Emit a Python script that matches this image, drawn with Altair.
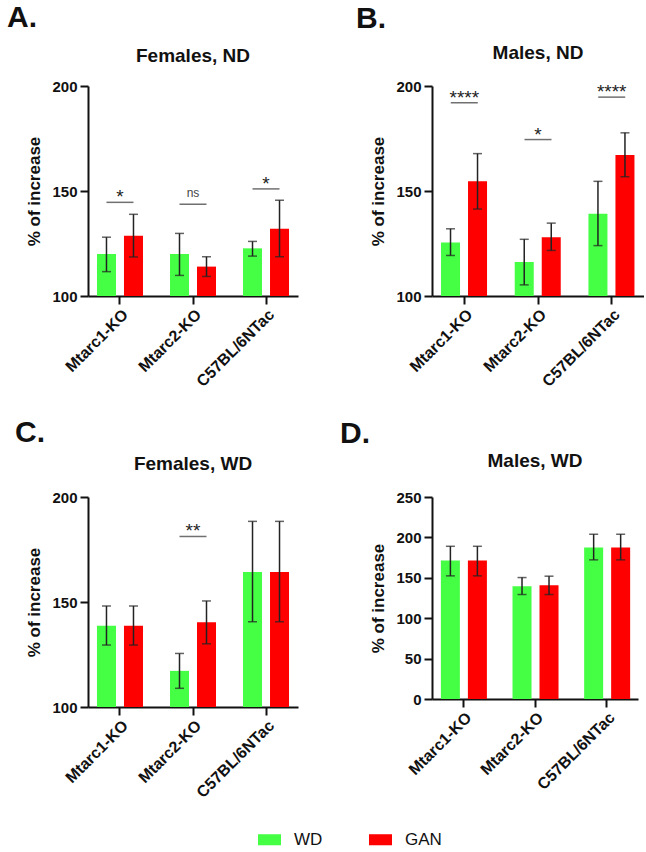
import altair as alt
import pandas as pd

FONT = "Liberation Sans"

strains = ["Mtarc1-KO", "Mtarc2-KO", "C57BL/6NTac"]
groups = ["WD", "GAN"]
group_colors = ["#44FF44", "#FF0000"]

# A. Females, ND
a_wd_mean = [120.0, 120.0, 122.7]
a_wd_lo = [111.6, 109.8, 119.0]
a_wd_hi = [128.0, 129.8, 126.0]
a_gan_mean = [128.7, 114.0, 132.0]
a_gan_lo = [118.6, 109.3, 118.7]
a_gan_hi = [138.9, 118.7, 145.6]
a_sig_strain = ["Mtarc1-KO", "Mtarc2-KO", "C57BL/6NTac"]
a_sig_label = ["*", "ns", "*"]
a_sig_y = [144.6, 143.7, 151.0]

# B. Males, ND
b_wd_mean = [125.5, 116.2, 139.2]
b_wd_lo = [119.3, 105.3, 124.0]
b_wd_hi = [132.0, 127.0, 154.6]
b_gan_mean = [154.6, 128.0, 167.2]
b_gan_lo = [141.4, 121.7, 156.8]
b_gan_hi = [167.8, 134.7, 177.7]
b_sig_strain = ["Mtarc1-KO", "Mtarc2-KO", "C57BL/6NTac"]
b_sig_label = ["****", "*", "****"]
b_sig_y = [192.0, 174.5, 194.7]

# C. Females, WD
c_wd_mean = [138.7, 117.2, 164.3]
c_wd_lo = [129.5, 108.9, 140.6]
c_wd_hi = [148.1, 125.5, 188.4]
c_gan_mean = [138.7, 140.3, 164.3]
c_gan_lo = [129.5, 130.1, 140.6]
c_gan_hi = [148.1, 150.5, 188.4]
c_sig_strain = ["Mtarc2-KO"]
c_sig_label = ["**"]
c_sig_y = [181.2]

# D. Males, WD
d_wd_mean = [171.3, 139.6, 187.4]
d_wd_lo = [152.4, 129.3, 172.2]
d_wd_hi = [189.0, 150.3, 203.9]
d_gan_mean = [171.3, 140.9, 187.4]
d_gan_lo = [152.4, 129.3, 172.2]
d_gan_hi = [189.0, 152.0, 203.9]


def bar_table(wd_mean, wd_lo, wd_hi, gan_mean, gan_lo, gan_hi):
    rows = []
    for i, s in enumerate(strains):
        rows.append({"strain": s, "group": "WD", "mean": wd_mean[i], "lo": wd_lo[i], "hi": wd_hi[i]})
        rows.append({"strain": s, "group": "GAN", "mean": gan_mean[i], "lo": gan_lo[i], "hi": gan_hi[i]})
    return pd.DataFrame(rows)


def panel(title, title_y, letter, letter_pos, table, sig, domain, ticks, width, height):
    xscale = alt.Scale(domain=strains, paddingInner=0.25, paddingOuter=0.063)
    xaxis = alt.Axis(
        labelAngle=-45, labelAlign="right", labelBaseline="top", labelPadding=2,
        labelFontSize=16, labelFontWeight="bold", labelFont=FONT, labelColor="#111",
        tickSize=8, tickWidth=2, tickColor="#111", domainWidth=2, domainColor="#111",
    )
    yscale = alt.Scale(domain=domain, zero=False, nice=False)
    yaxis = alt.Axis(
        values=ticks, grid=False, labelFontSize=15, labelFontWeight="bold", labelFont=FONT,
        labelColor="#111", labelPadding=3, tickSize=8, tickWidth=2, tickColor="#111",
        domainWidth=2, domainColor="#111", titleFontSize=17, titleFontWeight="bold",
        titleFont=FONT, titleColor="#111", titlePadding=8,
    )

    def X():
        return alt.X("strain:N", sort=strains, scale=xscale, axis=xaxis, title=None)

    def Y(field):
        return alt.Y(field, type="quantitative", scale=yscale, axis=yaxis, title="% of increase")

    xoff = alt.XOffset("group:N", sort=groups,
                       scale=alt.Scale(domain=groups, paddingInner=0.296, paddingOuter=0.162))

    base = alt.Chart(table).encode(x=X(), xOffset=xoff)

    bars = base.mark_bar().encode(
        y=Y("mean"),
        y2=alt.datum(domain[0]),
        color=alt.Color(
            "group:N", sort=groups,
            scale=alt.Scale(domain=groups, range=group_colors),
            title=None,
            legend=alt.Legend(
                orient="none", legendX=170, legendY=742, direction="horizontal",
                symbolType="M-1,-0.48H1V0.48H-1Z", symbolSize=529, symbolStrokeWidth=0,
                labelFontSize=17, labelFont=FONT, labelColor="#111", labelOffset=13,
                columnPadding=46, padding=0,
            ),
        ),
    )
    whiskers = base.mark_rule(color="#222", strokeWidth=1.5).encode(y=Y("lo"), y2="hi:Q")
    caps = base.transform_fold(["lo", "hi"], as_=["end", "val"]).mark_tick(
        color="#222", thickness=1.5, size=9
    ).encode(y=Y("val"))

    layers = [bars, whiskers, caps]

    if sig is not None:
        sdf = pd.DataFrame({"strain": sig[0], "label": sig[1], "y": sig[2]})
        sbase = alt.Chart(sdf).encode(x=X(), y=Y("y"))
        layers.append(sbase.mark_tick(color="#333", thickness=1.5, size=27))
        layers.append(
            sbase.transform_filter(alt.datum.label != "ns").mark_text(
                fontSize=19, font=FONT, color="#222", baseline="alphabetic", dy=1
            ).encode(text="label:N")
        )
        layers.append(
            sbase.transform_filter(alt.datum.label == "ns").mark_text(
                fontSize=12, font=FONT, color="#444", baseline="alphabetic", dy=-7
            ).encode(text="label:N")
        )

    # panel heading and panel letter
    heads = alt.Chart(pd.DataFrame({"t": [title]})).mark_text(
        fontSize=19, fontWeight="bold", font=FONT, color="#111", align="center", baseline="alphabetic"
    ).encode(x=alt.value(width / 2), y=alt.value(title_y), text="t:N")
    tag = alt.Chart(pd.DataFrame({"t": [letter]})).mark_text(
        fontSize=30, fontWeight="bold", font=FONT, color="#111", align="left", baseline="alphabetic"
    ).encode(x=alt.value(letter_pos[0]), y=alt.value(letter_pos[1]), text="t:N")
    layers += [heads, tag]

    return alt.layer(*layers).properties(width=width, height=height)


pA = panel("Females, ND", -24, "A.", (-81, -59),
           bar_table(a_wd_mean, a_wd_lo, a_wd_hi, a_gan_mean, a_gan_lo, a_gan_hi),
           (a_sig_strain, a_sig_label, a_sig_y), [100, 200], [100, 150, 200], 210, 210)
pB = panel("Males, ND", -27, "B.", (-76, -58),
           bar_table(b_wd_mean, b_wd_lo, b_wd_hi, b_gan_mean, b_gan_lo, b_gan_hi),
           (b_sig_strain, b_sig_label, b_sig_y), [100, 200], [100, 150, 200], 212, 210)
pC = panel("Females, WD", -27, "C.", (-73, -55),
           bar_table(c_wd_mean, c_wd_lo, c_wd_hi, c_gan_mean, c_gan_lo, c_gan_hi),
           (c_sig_strain, c_sig_label, c_sig_y), [100, 200], [100, 150, 200], 210, 210)
pD = panel("Males, WD", -30, "D.", (-92, -54),
           bar_table(d_wd_mean, d_wd_lo, d_wd_hi, d_gan_mean, d_gan_lo, d_gan_hi),
           None, [0, 250], [0, 50, 100, 150, 200, 250], 206, 202)

chart = alt.concat(
    pA, pB, pC, pD, columns=2, bounds="flush", spacing={"row": 201, "column": 134}
).properties(
    padding={"left": 7, "top": 3, "right": 0, "bottom": 0},
    autosize=alt.AutoSizeParams(type="pad"),
    background="white",
).configure_view(strokeWidth=0)

chart.save("out.html", embed_options={"renderer": "svg", "actions": False})
